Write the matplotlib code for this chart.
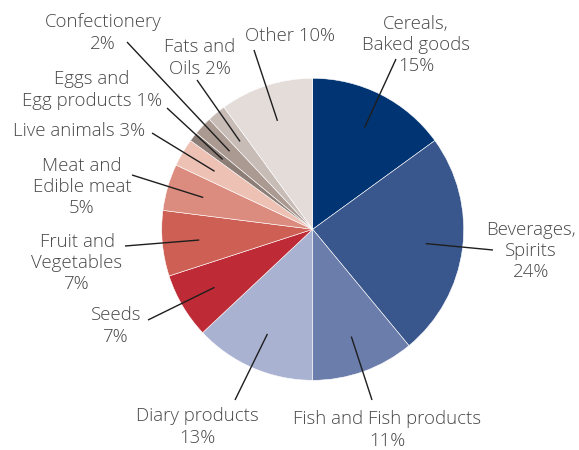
import numpy as np
import matplotlib
matplotlib.use("Agg")
import matplotlib.pyplot as plt

categories = ["Cereals,\nBaked goods\n15%", "Beverages,\nSpirits\n24%", "Fish and Fish products\n11%",
              "Diary products\n13%", "Seeds\n7%", "Fruit and\nVegetables\n7%", "Meat and\nEdible meat\n5%",
              "Live animals 3%", "Eggs and\nEgg products 1%", "Confectionery\n2%", "Fats and\nOils 2%", "Other 10%"]
values = [15, 24, 11, 13, 7, 7, 5, 3, 1, 2, 2, 10]
colors = ["#003473", "#39578c", "#6b7dab", "#a9b2d1", "#be2a35", "#cd5f55", "#dc8c7f",
          "#eec1b5", "#8c7d76", "#ab9a92", "#c8bcb6", "#e3dcd9"]

# label text centres and leader outer ends (pixel coords, y from top)
text_pos = [(416, 45), (531, 251), (387, 430), (197, 427), (116, 326), (77, 263), (82, 187),
            (79, 131), (92, 90), (103, 33), (200, 58), (290, 36)]
line_out = [(396, 59), (493, 250), (372, 400), (235, 400), (148, 320), (125, 246), (132, 175),
            (152, 133), (167, 108), (127, 42), (197, 80), (254, 50)]

W, H = 579, 450
fig = plt.figure(figsize=(W / 100, H / 100), dpi=100)
ax = fig.add_axes([0, 0, 1, 1])

cx, cy, R = 312.7, H - 229.3, 151
wedges, _ = ax.pie(values, colors=colors, startangle=90, counterclock=False,
                   center=(cx, cy), radius=R, frame=True,
                   wedgeprops=dict(edgecolor="white", linewidth=0.4))
ax.set_xlim(0, W)
ax.set_ylim(0, H)
ax.set_aspect("equal")
ax.axis("off")

fams = ['Open Sans', 'DejaVu Sans']
for w, lab, (tx, ty), (lx, ly) in zip(wedges, categories, text_pos, line_out):
    mid = np.deg2rad((w.theta1 + w.theta2) / 2)
    ix = cx + 0.755 * R * np.cos(mid)
    iy = cy + 0.755 * R * np.sin(mid)
    ax.plot([ix, lx], [iy, H - ly], color="#1e1e1e", lw=1.0, solid_capstyle="butt")
    ax.text(tx, H - ty, lab, ha="center", va="center", fontsize=13.4, color="#484848",
            linespacing=1.22, family=fams, fontweight="light")

fig.savefig("out.png", dpi=100)
